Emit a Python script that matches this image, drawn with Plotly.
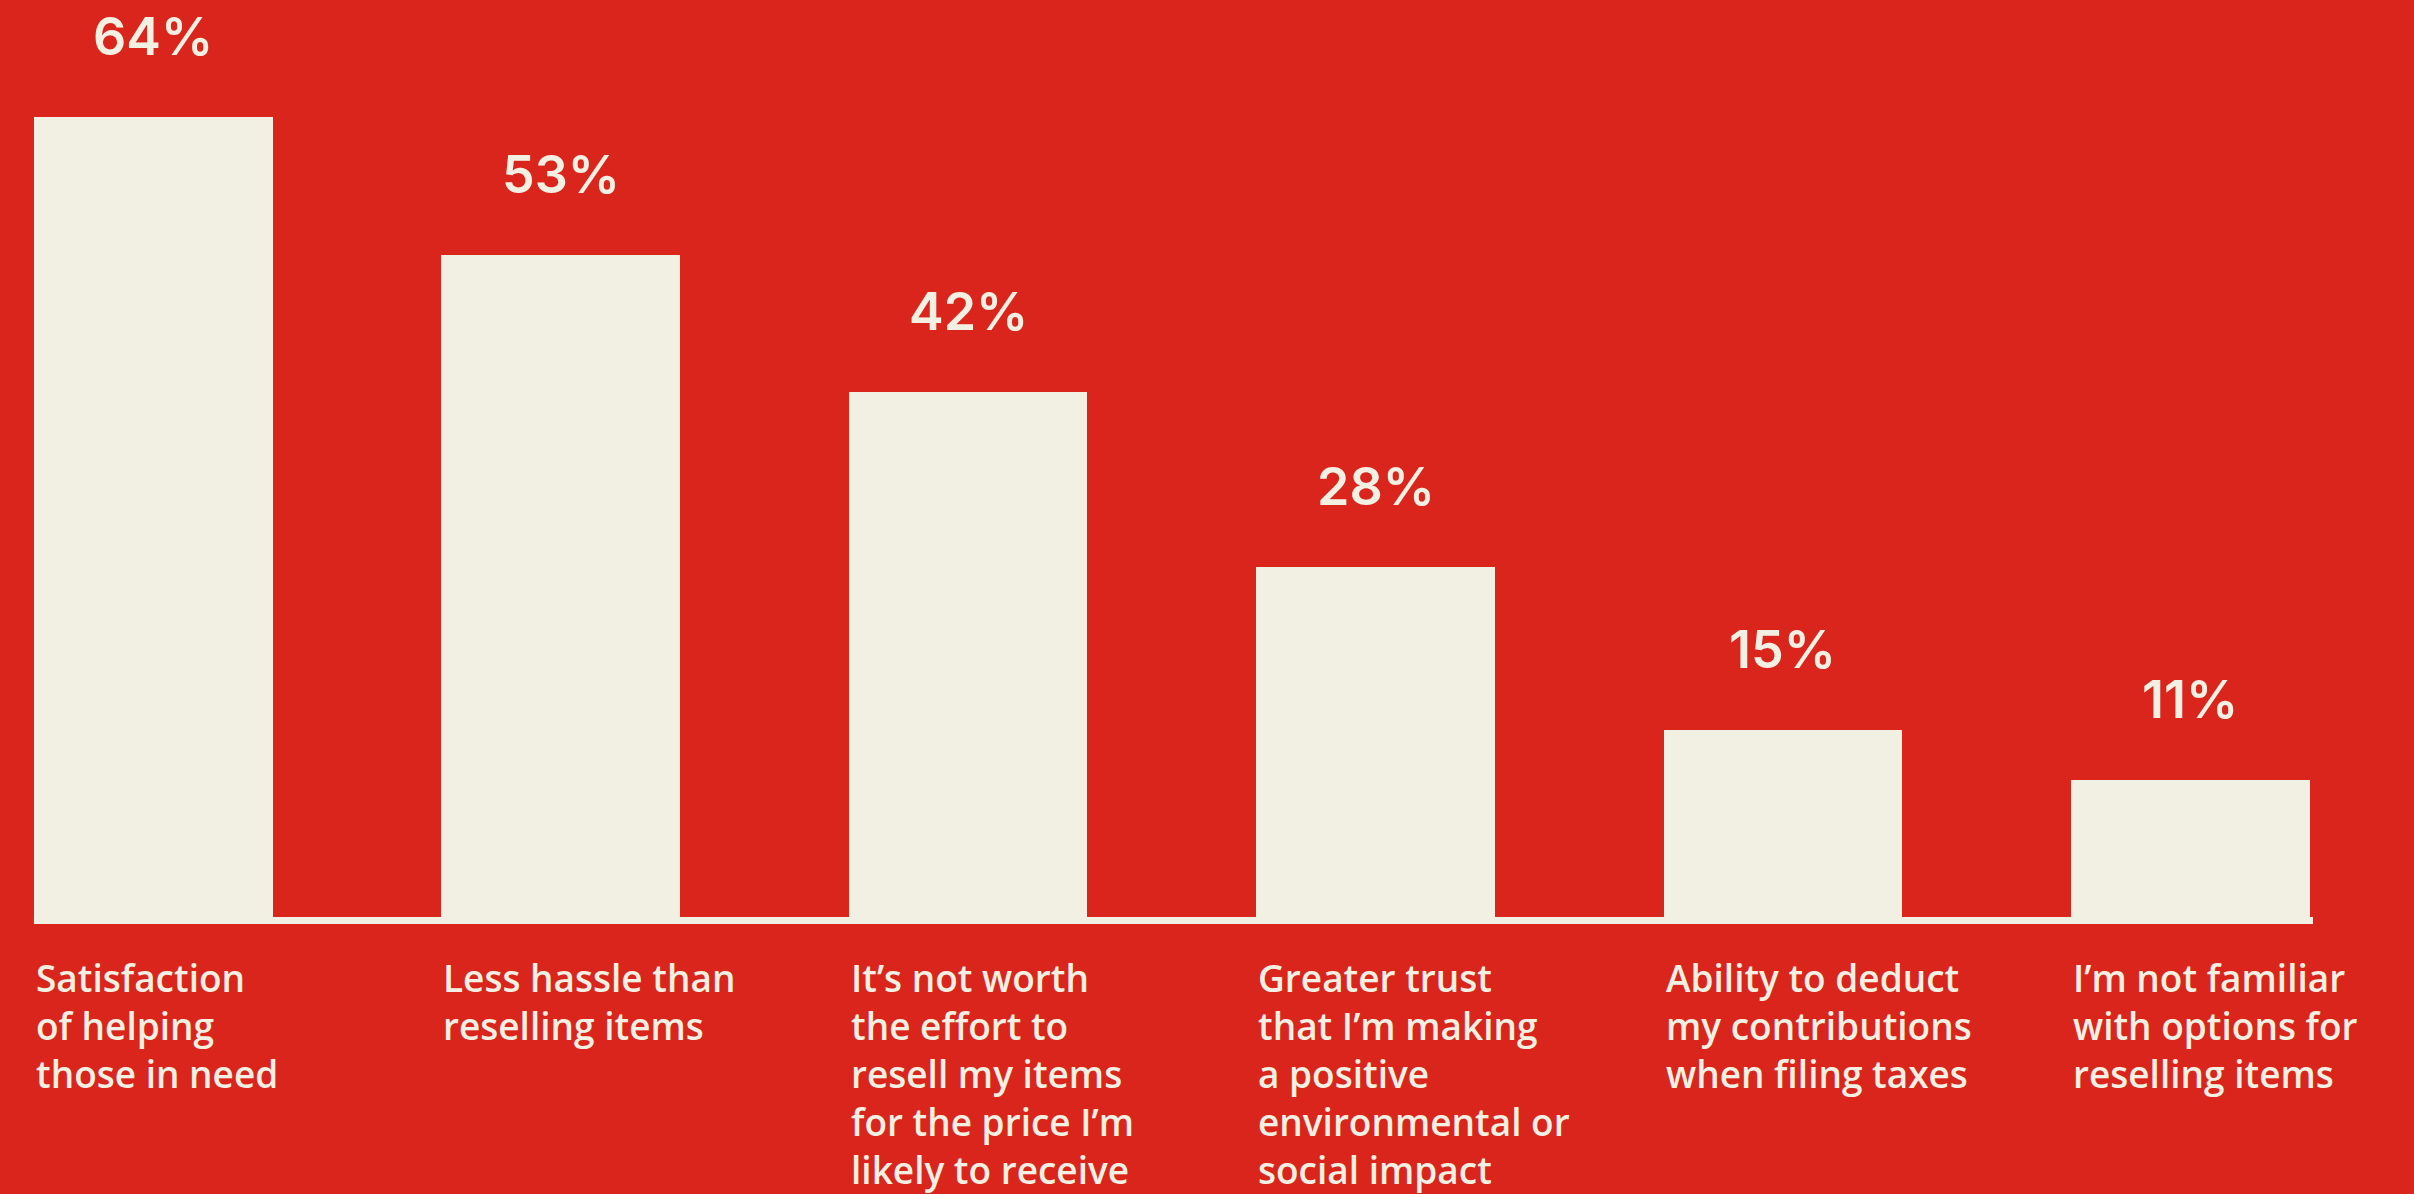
import plotly.graph_objects as go

# Survey results: reasons for donating instead of reselling
categories = [
    "Satisfaction<br>of helping<br>those in need",
    "Less hassle than<br>reselling items",
    "It’s not worth<br>the effort to<br>resell my items<br>for the price I’m<br>likely to receive",
    "Greater trust<br>that I’m making<br>a positive<br>environmental or<br>social impact",
    "Ability to deduct<br>my contributions<br>when filing taxes",
    "I’m not familiar<br>with options for<br>reselling items",
]
values = [64, 53, 42, 28, 15, 11]
value_labels = [f"{v}%" for v in values]

RED = "#DA251D"
CREAM = "#F2F0E2"
BAR_WIDTH = 0.586

xs = list(range(len(values)))

fig = go.Figure()
fig.add_trace(go.Bar(
    x=xs,
    y=values,
    width=BAR_WIDTH,
    marker=dict(color=CREAM, line=dict(width=0)),
    hoverinfo="skip",
))

# Percentage labels above each bar
for x, v, t in zip(xs, values, value_labels):
    fig.add_annotation(
        x=x, y=v, xref="x", yref="y",
        text=t, showarrow=False,
        xanchor="center", yanchor="bottom", yshift=47,
        font=dict(family="Inter", size=52, color=CREAM, weight=600),
    )

# Category labels, left-aligned under each bar
for x, c in zip(xs, categories):
    fig.add_annotation(
        x=x - BAR_WIDTH / 2, y=0, xref="x", yref="y",
        text=c, showarrow=False,
        xanchor="left", yanchor="top", align="left", yshift=-33,
        font=dict(family="Open Sans", size=37, color=CREAM, weight=600),
    )

# Baseline strip under the bars
fig.add_shape(
    type="rect", xref="x", yref="y",
    x0=xs[0] - BAR_WIDTH / 2, x1=xs[-1] + BAR_WIDTH / 2 + 0.008,
    y0=-0.56, y1=0,
    fillcolor=CREAM, line=dict(width=0), layer="above",
)

fig.update_layout(
    width=2414, height=1194,
    margin=dict(l=0, r=0, t=0, b=270),
    paper_bgcolor=RED, plot_bgcolor=RED,
    showlegend=False,
    bargap=0,
    xaxis=dict(range=[-0.3763, 5.549], visible=False, fixedrange=True),
    yaxis=dict(range=[-0.56, 73.36], visible=False, fixedrange=True),
)

fig.write_html("out.html")
